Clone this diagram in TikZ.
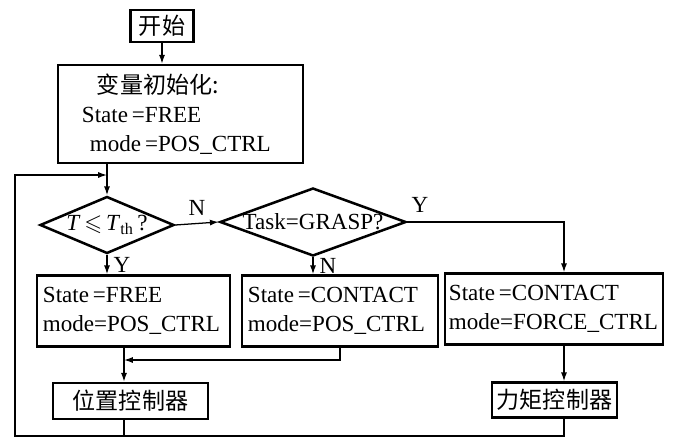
\documentclass[tikz,border=0pt]{standalone}
\usepackage{fontspec}
\usepackage{amssymb}
\setmainfont{Liberation Serif}
\newfontfamily\cjk{Noto Sans CJK SC}
\usetikzlibrary{arrows.meta, positioning, shapes.geometric, calc}

\begin{document}
\begin{tikzpicture}[
    x=0.025cm, y=-0.025cm,
    font=\fontsize{16.4}{20.6}\selectfont,
    box/.style={draw, line width=1.8pt, inner sep=0pt, align=center},
    statebox/.style={box, align=left, inner xsep=0.15cm, text width=#1, minimum height=1.775cm},
    dia/.style={draw, diamond, line width=1.8pt, inner sep=0pt},
    arrow/.style={-{Latex[length=2.2mm, width=1.5mm]}, line width=0.9pt},
    line/.style={line width=0.9pt}
]
    \useasboundingbox (0,0) rectangle (676,440);

    \node[box, minimum width=1.575cm, minimum height=0.8cm] (start) at (162,26) {\cjk 开始};
    \node[box, align=left, inner xsep=0.6cm, text width=4.925cm, minimum height=2.45cm] (init) at (180.5,114)
        {\hspace{0.375cm}{\cjk 变量初始化:}\\State\,=FREE\\\hspace{0.2cm}mode\,=POS\_CTRL};

    \node[dia, minimum width=3.35cm, minimum height=1.425cm] (chk) at (107,225)
        {\makebox[0pt]{\textit{T}\,$\leqslant$\,\textit{T}\textsubscript{th}\,?}};
    \node[dia, minimum width=4.65cm, minimum height=1.7cm] (task) at (313,222)
        {\makebox[0pt]{Task=GRASP?}};

    \node[statebox=4.525cm] (free) at (133.5,311) {State\,=FREE\\mode=POS\_CTRL};
    \node[statebox=4.6cm] (cpos) at (340,311) {State\,=CONTACT\\mode=POS\_CTRL};
    \node[statebox=5.25cm, inner xsep=0.1cm] (cfrc) at (554,309) {State\,=CONTACT\\mode=FORCE\_CTRL};

    \node[box, minimum width=3.875cm, minimum height=0.9cm] (posctl) at (130.5,401) {\cjk 位置控制器};
    \node[box, minimum width=3.125cm, minimum height=0.875cm] (frcctl) at (554.5,400) {\cjk 力矩控制器};

    % helper points of the wiring
    \coordinate (loopin) at (107,175);
    \coordinate (merge) at (124,360);
    \coordinate (rcol) at (564,222);
    \coordinate (lbot) at (15,436);

    \draw[arrow] (start) -- (start |- init.north);
    \draw[arrow] (init.south -| chk.north) -- (chk.north);
    \draw[arrow] (chk.east) -- node[above=2pt] (lN) {N} (task.west);
    \draw[arrow] (chk.south) -- node[right=1pt] (lY) {Y} (chk.south |- free.north);
    \draw[arrow] (task.south) -- node[right=1pt] (lN2) {N} (task.south |- cpos.north);
    \draw[arrow] (task.east) -- node[pos=0.08, above=3pt] (lY2) {Y} (task.east -| rcol) -- (cfrc.north -| rcol);

    \draw[arrow] (free.south -| merge) -- (posctl.north -| merge);
    \draw[arrow] (cpos.south) |- (merge);
    \draw[arrow] (cfrc.south -| rcol) -- (frcctl.north -| rcol);

    \draw[line] (posctl.south -| merge) -- (merge |- lbot);
    \draw[arrow] (frcctl.south -| rcol) |- (lbot) |- (loopin);
\end{tikzpicture}
\end{document}
